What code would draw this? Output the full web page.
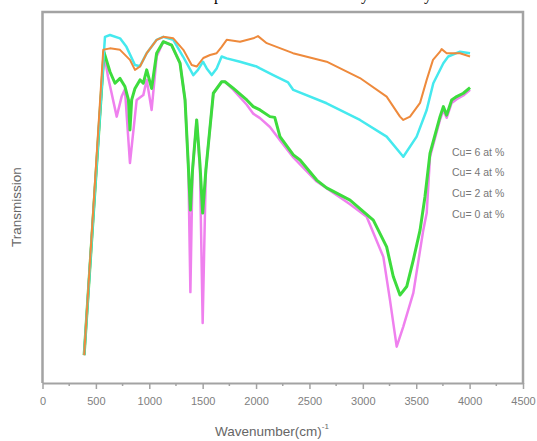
<!DOCTYPE html>
<html>
<head>
<meta charset="utf-8">
<script src="https://cdn.jsdelivr.net/npm/d3@7"></script>
<style>
  body { margin: 0; background: #fff; }
  svg { display: block; }
</style>
</head>
<body>
<div id="chart"></div>
<script>
// x ticks (wavenumber, cm^-1)
const xTicks = [0, 500, 1000, 1500, 2000, 2500, 3000, 3500, 4000, 4500];
const legendLabels = ["Cu= 6 at %", "Cu= 4 at %", "Cu= 2 at %", "Cu= 0 at %"];

// [wavenumber, transmission (a.u.)]
const cu6 = [
  [390, 7.5], [569, 89.8], [632, 90.2], [726, 89.8], [819, 87.1], [866, 84.4],
  [913, 85.3], [976, 88.9], [1069, 92.5], [1131, 93.3], [1225, 92.9], [1319, 89.8],
  [1397, 85.7], [1444, 85.3], [1506, 87.6], [1569, 88.4], [1631, 88.9], [1678, 90.6],
  [1725, 92.5], [1850, 92.0], [1974, 92.9], [2018, 93.5], [2100, 91.6], [2346, 88.9],
  [2661, 86.6], [2973, 82.2], [3223, 77.2], [3348, 71.8], [3379, 70.9], [3442, 71.8],
  [3536, 75.5], [3598, 81.7], [3657, 87.1], [3723, 89.3], [3738, 90.0], [3785, 88.9],
  [3910, 88.9], [4004, 88.0]
];
const cu4 = [
  [390, 7.5], [585, 93.3], [632, 93.8], [726, 92.9], [786, 90.6], [866, 85.7],
  [913, 85.4], [976, 88.9], [1069, 92.5], [1131, 93.3], [1225, 92.5], [1316, 88.0],
  [1412, 83.0], [1456, 84.4], [1503, 86.6], [1538, 84.8], [1585, 83.0], [1631, 84.8],
  [1678, 88.0], [1725, 87.5], [1850, 86.6], [2006, 85.3], [2037, 84.8], [2161, 83.0],
  [2300, 81.0], [2349, 79.0], [2661, 75.4], [2973, 70.9], [3223, 66.4], [3379, 61.0],
  [3504, 66.4], [3598, 73.6], [3660, 80.8], [3754, 86.2], [3800, 88.0], [3910, 89.3],
  [4004, 88.9]
];
const cu2 = [
  [390, 7.5], [576, 89.2], [632, 83.9], [679, 80.8], [726, 82.1], [772, 79.9],
  [805, 76.3], [819, 68.2], [835, 76.3], [866, 79.4], [913, 81.7], [944, 80.8],
  [976, 84.4], [1022, 79.4], [1069, 88.9], [1131, 92.0], [1209, 91.1], [1288, 86.2],
  [1335, 76.3], [1366, 58.3], [1385, 46.6], [1405, 57.4], [1444, 70.9], [1475, 58.8],
  [1500, 45.8], [1530, 57.4], [1600, 78.1], [1678, 81.2], [1709, 81.2], [1788, 79.4],
  [1913, 76.3], [1974, 74.5], [2037, 73.6], [2130, 71.8], [2175, 71.6], [2224, 66.4],
  [2349, 61.5], [2412, 60.1], [2568, 54.7], [2661, 52.6], [2880, 49.3], [3098, 43.9],
  [3223, 36.7], [3285, 28.7], [3348, 23.7], [3411, 26.0], [3473, 33.2], [3536, 41.2],
  [3582, 50.2], [3629, 61.9], [3723, 71.8], [3754, 74.5], [3785, 72.2], [3832, 76.3],
  [3879, 77.2], [3941, 78.1], [4004, 79.6]
];
const cu0 = [
  [390, 7.5], [576, 89.2], [613, 82.6], [695, 71.8], [741, 77.2], [772, 79.2],
  [819, 59.3], [882, 76.3], [944, 77.6], [976, 81.7], [1022, 73.6], [1069, 88.0],
  [1131, 92.0], [1209, 91.1], [1288, 86.2], [1335, 76.3], [1366, 58.3], [1385, 24.5],
  [1405, 57.4], [1444, 70.9], [1475, 57.4], [1500, 16.2], [1530, 57.4], [1600, 78.1],
  [1678, 81.2], [1709, 81.2], [1788, 79.0], [1913, 75.0], [1974, 72.6], [2037, 71.4],
  [2130, 69.0], [2224, 65.4], [2349, 60.8], [2568, 54.3], [2880, 48.2], [3036, 44.8],
  [3192, 34.0], [3254, 22.4], [3317, 9.8], [3379, 15.2], [3473, 24.3], [3566, 41.2],
  [3598, 45.8], [3629, 61.0], [3723, 71.0], [3754, 73.5], [3785, 71.5], [3832, 75.5],
  [3879, 76.5], [3941, 77.5], [4004, 79.0]
];

const width = 537;
const height = 441;
const margin = { left: 42.5, right: 14, top: 12, bottom: 58 };

const svg = d3
  .select("#chart")
  .append("svg")
  .attr("width", width)
  .attr("height", height);

const x = d3
  .scaleLinear()
  .domain([0, 4500])
  .range([margin.left, width - margin.right]);

const y = d3
  .scaleLinear()
  .domain([0, 100])
  .range([height - margin.bottom, margin.top]);

// cropped caption line above the figure (only descenders show, as in the source)
svg
  .append("g")
  .attr("font-family", "Liberation Serif")
  .attr("font-size", 16)
  .selectAll("text")
  .data([["p", 218], ["y", 365], ["y", 428]])
  .enter()
  .append("text")
  .attr("x", (d) => d[1])
  .attr("y", -0.5)
  .attr("text-anchor", "middle")
  .text((d) => d[0]);

// spectra, bottom to top
const series = [
  { data: cu0, color: "#ef80ee", w: 2.5 },
  { data: cu2, color: "#3ddc3d", w: 3 },
  { data: cu4, color: "#45e9ee", w: 2.5 },
  { data: cu6, color: "#ee8a3c", w: 2 }
];

const line = d3
  .line()
  .x((d) => x(d[0]))
  .y((d) => y(d[1]));

svg
  .selectAll("path.spec")
  .data(series)
  .enter()
  .append("path")
  .attr("class", "spec")
  .attr("d", (d) => line(d.data))
  .attr("fill", "none")
  .attr("stroke", (d) => d.color)
  .attr("stroke-width", (d) => d.w)
  .attr("stroke-linejoin", "round");

// frame (left, top, right)
const x0 = x.range()[0];
const x1 = x.range()[1];
const y0 = y.range()[0];
const y1 = y.range()[1];
svg
  .append("path")
  .attr("d", `M${x0},${y0}V${y1}H${x1}V${y0 + 1}`)
  .attr("fill", "none")
  .attr("stroke", "#a3a3a3")
  .attr("stroke-width", 2.5);

// bottom axis
const xAxis = svg
  .append("g")
  .attr("transform", `translate(0,${y0})`)
  .call(
    d3
      .axisBottom(x)
      .tickValues(xTicks)
      .tickFormat(d3.format("d"))
      .tickSize(6)
      .tickSizeOuter(0)
      .tickPadding(8)
  );

xAxis.select(".domain").attr("stroke", "#a3a3a3").attr("stroke-width", 2);
xAxis.selectAll(".tick line").attr("stroke", "#a3a3a3").attr("stroke-width", 1.5);
xAxis
  .selectAll(".tick text")
  .attr("fill", "#808080")
  .attr("font-family", "Liberation Sans")
  .attr("font-size", 11);

// minor ticks
svg
  .append("g")
  .selectAll("line")
  .data(d3.range(250, 4500, 500))
  .enter()
  .append("line")
  .attr("x1", (d) => x(d))
  .attr("x2", (d) => x(d))
  .attr("y1", y0)
  .attr("y2", y0 + 3)
  .attr("stroke", "#a3a3a3")
  .attr("stroke-width", 1.5);

// axis titles
const xTitle = svg
  .append("text")
  .attr("x", 272)
  .attr("y", 436)
  .attr("text-anchor", "middle")
  .attr("fill", "#666")
  .attr("font-family", "Liberation Sans")
  .attr("font-size", 13.5)
  .text("Wavenumber(cm)");
xTitle
  .append("tspan")
  .attr("dy", -7)
  .attr("font-size", 8)
  .text("-1");

svg
  .append("text")
  .attr("transform", "translate(21,207) rotate(-90)")
  .attr("text-anchor", "middle")
  .attr("fill", "#666")
  .attr("font-family", "Liberation Sans")
  .attr("font-size", 13.5)
  .text("Transmission");

// legend (text only)
svg
  .append("g")
  .selectAll("text")
  .data(legendLabels)
  .enter()
  .append("text")
  .attr("x", 452)
  .attr("y", (d, i) => 155.5 + i * 20.8)
  .attr("fill", "#777")
  .attr("font-family", "Liberation Sans")
  .attr("font-size", 10.5)
  .text((d) => d);
</script>
</body>
</html>
